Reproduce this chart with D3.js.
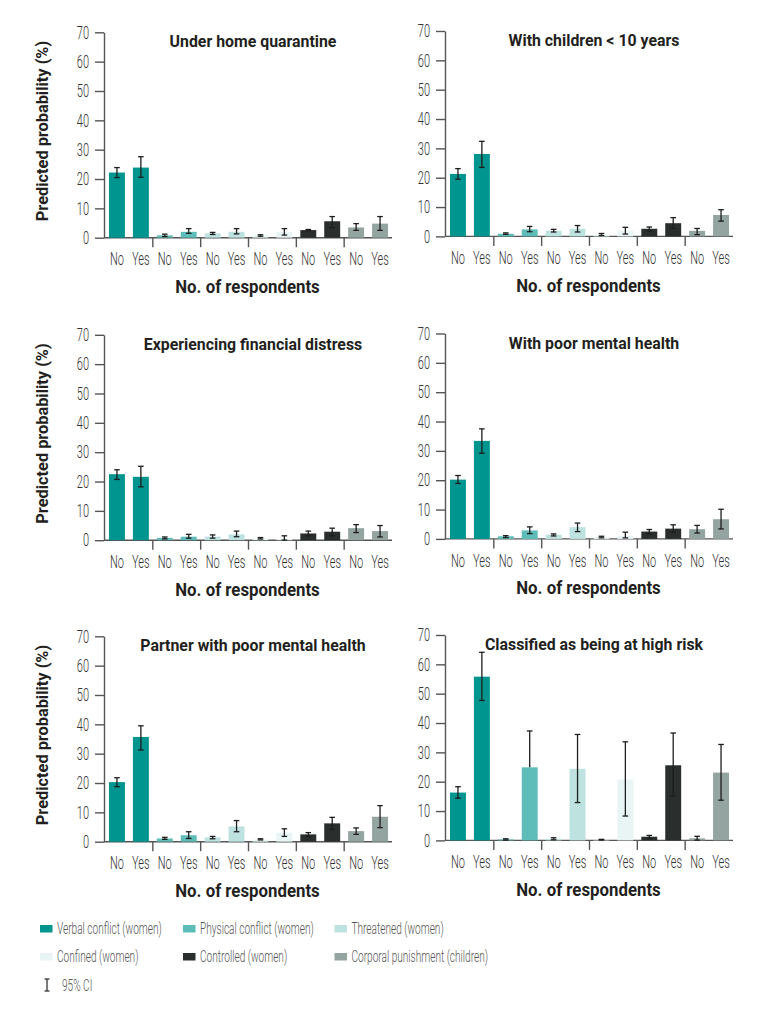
<!DOCTYPE html>
<html>
<head>
<meta charset="utf-8">
<script src="https://cdn.jsdelivr.net/npm/d3@7"></script>
<style>
  html, body { margin: 0; padding: 0; background: #fff; }
  svg { display: block; }
  .light { font-family: Roboto, "Open Sans", sans-serif; font-weight: 300; fill: #333; }
  .bold { font-family: Roboto, "Open Sans", sans-serif; font-weight: 700; fill: #231f20; }
</style>
</head>
<body>
<svg id="chart" width="771" height="1013"></svg>
<script>
// ---------------- DATA ----------------
const categories = [
  "Verbal conflict (women)", "Physical conflict (women)", "Threatened (women)",
  "Confined (women)", "Controlled (women)", "Corporal punishment (children)"
];
const responses = ["No", "Yes"];
const yTicks = [0, 10, 20, 30, 40, 50, 60, 70];
const panelTitles = [
  "Under home quarantine", "With children < 10 years",
  "Experiencing financial distress", "With poor mental health",
  "Partner with poor mental health", "Classified as being at high risk"
];
const xAxisTitle = "No. of respondents";
const yAxisTitle = "Predicted probability (%)";
const ciLabel = "95% CI";

// Order in each array: for each category, No then Yes
const quarantineValue = [22.2, 23.9, 0.8, 2.0, 1.5, 2.0, 0.8, 2.0, 2.6, 5.6, 3.5, 4.8];
const quarantineLower = [20.5, 20.6, 0.4, 1.5, 1.1, 1.3, 0.5, 0.9, 2.4, 3.4, 2.5, 2.5];
const quarantineUpper = [23.9, 27.6, 1.2, 3.1, 1.8, 3.1, 1.0, 3.1, 2.8, 7.2, 4.8, 7.2];

const childrenValue = [21.3, 28.1, 0.9, 2.4, 1.9, 2.6, 0.7, 1.9, 2.6, 4.5, 1.9, 7.3];
const childrenLower = [19.5, 23.5, 0.7, 1.6, 1.5, 1.5, 0.3, 0.8, 1.8, 2.7, 0.6, 5.2];
const childrenUpper = [23.1, 32.4, 1.2, 3.4, 2.4, 3.7, 1.0, 3.1, 3.2, 6.4, 2.7, 9.1];

const financialValue = [22.5, 21.6, 0.8, 1.2, 1.2, 2.0, 0.6, 0.4, 2.3, 2.9, 4.1, 3.1];
const financialLower = [20.7, 18.2, 0.45, 0.7, 0.7, 1.2, 0.4, 0.05, 1.5, 1.5, 2.6, 1.1];
const financialUpper = [24.0, 25.2, 1.1, 2.0, 1.8, 3.1, 0.9, 1.5, 3.1, 4.1, 5.3, 5.0];

const mentalValue = [20.2, 33.4, 0.9, 2.9, 1.4, 4.0, 0.7, 1.1, 2.5, 3.5, 3.3, 6.7];
const mentalLower = [18.9, 29.2, 0.45, 1.8, 1.0, 2.5, 0.35, 0.35, 1.7, 2.3, 2.0, 3.4];
const mentalUpper = [21.6, 37.5, 1.1, 4.1, 1.7, 5.4, 0.9, 2.3, 3.2, 4.8, 4.6, 10.1];

const partnerValue = [20.3, 35.7, 1.1, 2.2, 1.5, 5.2, 0.7, 3.1, 2.5, 6.25, 3.6, 8.5];
const partnerLower = [18.75, 31.25, 0.8, 1.1, 1.0, 3.4, 0.6, 1.8, 1.8, 4.2, 2.5, 4.8];
const partnerUpper = [21.8, 39.5, 1.5, 3.4, 1.8, 7.2, 1.0, 4.4, 3.1, 8.3, 4.7, 12.3];

const highRiskValue = [16.3, 55.8, 0.35, 24.9, 0.55, 24.4, 0.2, 20.7, 1.25, 25.6, 0.7, 23.1];
const highRiskLower = [14.4, 47.7, 0.1, 24.9, 0.2, 12.9, 0.1, 8.3, 0.6, 15.1, 0.1, 13.7];
const highRiskUpper = [18.3, 64.1, 0.55, 37.3, 0.9, 36.1, 0.35, 33.6, 1.7, 36.6, 1.4, 32.7];

// ---------------- STYLE / LAYOUT ----------------
const colors = ["#00958f", "#5fbdb9", "#bde2e0", "#e8f5f4", "#2a2e2d", "#93a4a1"];

const panels = [
  { title: panelTitles[0], v: quarantineValue, lo: quarantineLower, hi: quarantineUpper },
  { title: panelTitles[1], v: childrenValue,   lo: childrenLower,   hi: childrenUpper },
  { title: panelTitles[2], v: financialValue,  lo: financialLower,  hi: financialUpper },
  { title: panelTitles[3], v: mentalValue,     lo: mentalLower,     hi: mentalUpper },
  { title: panelTitles[4], v: partnerValue,    lo: partnerLower,    hi: partnerUpper },
  { title: panelTitles[5], v: highRiskValue,   lo: highRiskLower,   hi: highRiskUpper }
];

const keys = categories.flatMap(c => responses.map(r => c + "|" + r));
const colorScale = d3.scaleOrdinal().domain(categories).range(colors);

const colX = [[104, 392], [445, 733]];
const colDy = [1.3, 0];
const rowTop = [31, 333.5, 635];
const plotH = 205.4;

const svg = d3.select("#chart");

// calibration of condensed look
function measure(str, cls, size) {
  const t = svg.append("text").attr("class", cls).style("font-size", size + "px").text(str);
  const w = t.node().getComputedTextLength();
  t.remove();
  return w;
}
const kLight = 105 / measure(categories[0], "light", 16.5);
const kBold = 167 / measure(panelTitles[0], "bold", 16.5);

// horizontally squeeze a text around its anchor point with a transform
function condense(sel, k) {
  sel.each(function () {
    const t = d3.select(this);
    const x = +t.attr("x") || 0, y = +t.attr("y") || 0;
    const prev = t.attr("transform") || "";
    t.attr("x", 0).attr("y", 0)
     .attr("transform", `${prev} translate(${x},${y}) scale(${k},1)`.trim());
  });
}

panels.forEach((p, i) => {
  const col = i % 2, row = Math.floor(i / 2);
  const [x0, x1] = colX[col];
  const top = rowTop[row] + colDy[col];
  const bottom = top + plotH;
  const g = svg.append("g");

  const y = d3.scaleLinear().domain([0, 70]).range([bottom, top]);
  const x = d3.scaleBand().domain(keys).range([x0 + 1, x1]).paddingInner(1 / 3).paddingOuter(1 / 6);

  // y axis
  const ya = g.append("g").attr("transform", `translate(${x0},0)`)
    .call(d3.axisLeft(y).tickValues(yTicks).tickSize(9).tickSizeOuter(0).tickPadding(6));
  ya.select(".domain").attr("stroke", "#555").attr("stroke-width", 1.4);
  ya.selectAll(".tick line").attr("stroke", "#555").attr("stroke-width", 1.4);
  ya.selectAll(".tick text").attr("class", "light").attr("font-family", null)
    .style("font-size", "18px").attr("fill", null);

  // x axis
  const xa = g.append("g").attr("transform", `translate(0,${bottom})`)
    .call(d3.axisBottom(x).tickSize(0).tickPadding(15).tickFormat(k => k.split("|")[1]));
  xa.select(".domain").remove();
  xa.selectAll(".tick text").attr("class", "light").attr("font-family", null)
    .style("font-size", "18px").attr("fill", null);
  g.append("line").attr("x1", x0).attr("x2", x1).attr("y1", bottom).attr("y2", bottom)
    .attr("stroke", "#555").attr("stroke-width", 1.4);
  // group separators
  const step = x.step();
  categories.slice(1).forEach(c => {
    const sx = x(c + "|No") - step * x.paddingInner() / 2;
    g.append("line").attr("x1", sx).attr("x2", sx).attr("y1", bottom).attr("y2", bottom + 9.5)
      .attr("stroke", "#555").attr("stroke-width", 1.4);
  });

  // bars
  const data = keys.map((k, j) => ({ key: k, cat: k.split("|")[0], v: p.v[j], lo: p.lo[j], hi: p.hi[j] }));
  g.selectAll("rect.bar").data(data).join("rect").attr("class", "bar")
    .attr("x", d => x(d.key)).attr("width", x.bandwidth())
    .attr("y", d => y(d.v)).attr("height", d => y(0) - y(d.v))
    .attr("fill", d => colorScale(d.cat));

  // error bars
  const cxOf = d => x(d.key) + x.bandwidth() / 2;
  const eb = g.selectAll("g.eb").data(data).join("g").attr("class", "eb")
    .attr("stroke", "#1e1e1e").attr("stroke-width", 1.3);
  eb.append("line").attr("x1", cxOf).attr("x2", cxOf)
    .attr("y1", d => y(d.lo)).attr("y2", d => y(d.hi));
  eb.append("line").attr("x1", d => cxOf(d) - 2.8).attr("x2", d => cxOf(d) + 2.8)
    .attr("y1", d => y(d.hi)).attr("y2", d => y(d.hi));
  eb.filter(d => d.lo < d.v).append("line").attr("x1", d => cxOf(d) - 2.8).attr("x2", d => cxOf(d) + 2.8)
    .attr("y1", d => y(d.lo)).attr("y2", d => y(d.lo));

  // titles
  g.append("text").attr("class", "bold").style("font-size", "16.5px")
    .attr("x", (x0 + x1) / 2 + 5).attr("y", top + 15).attr("text-anchor", "middle").text(p.title);
  g.append("text").attr("class", "bold").style("font-size", "17.5px")
    .attr("x", (x0 + x1) / 2 - 0.5).attr("y", bottom + 55.5).attr("text-anchor", "middle").text(xAxisTitle);
  if (col === 0) {
    g.append("text").attr("class", "bold").style("font-size", "17px")
      .attr("transform", `translate(48,${(top + bottom) / 2 - 4}) rotate(-90)`)
      .attr("text-anchor", "middle").text(yAxisTitle);
  }
});

// legend
const legX = [40, 183, 334.5];
const legY = [928.5, 956.5];
const lg = svg.append("g");
categories.forEach((c, i) => {
  const cx = legX[i % 3], cy = legY[Math.floor(i / 3)];
  lg.append("rect").attr("x", cx).attr("y", cy - 3.5).attr("width", 12.5).attr("height", 7.5).attr("fill", colorScale(c));
  lg.append("text").attr("class", "light legend").style("font-size", "16.5px").style("fill", "#555")
    .attr("x", cx + 17).attr("y", cy + 5.8).text(c);
});
// CI glyph
const ciY = 985, ciX = 47;
lg.append("line").attr("x1", ciX).attr("x2", ciX).attr("y1", ciY - 6).attr("y2", ciY + 6).attr("stroke", "#333").attr("stroke-width", 1.3);
lg.append("line").attr("x1", ciX - 2.5).attr("x2", ciX + 2.5).attr("y1", ciY - 6).attr("y2", ciY - 6).attr("stroke", "#333").attr("stroke-width", 1.3);
lg.append("line").attr("x1", ciX - 2.5).attr("x2", ciX + 2.5).attr("y1", ciY + 6).attr("y2", ciY + 6).attr("stroke", "#333").attr("stroke-width", 1.3);
lg.append("text").attr("class", "light legend").style("font-size", "16.5px").style("fill", "#555")
  .attr("x", 62).attr("y", ciY + 5.8).text(ciLabel);

// apply condensed look (axis tick texts carry their offset in dy, which stays unscaled vertically)
condense(svg.selectAll("text.light"), kLight);
condense(svg.selectAll("text.bold"), kBold);
</script>
</body>
</html>
